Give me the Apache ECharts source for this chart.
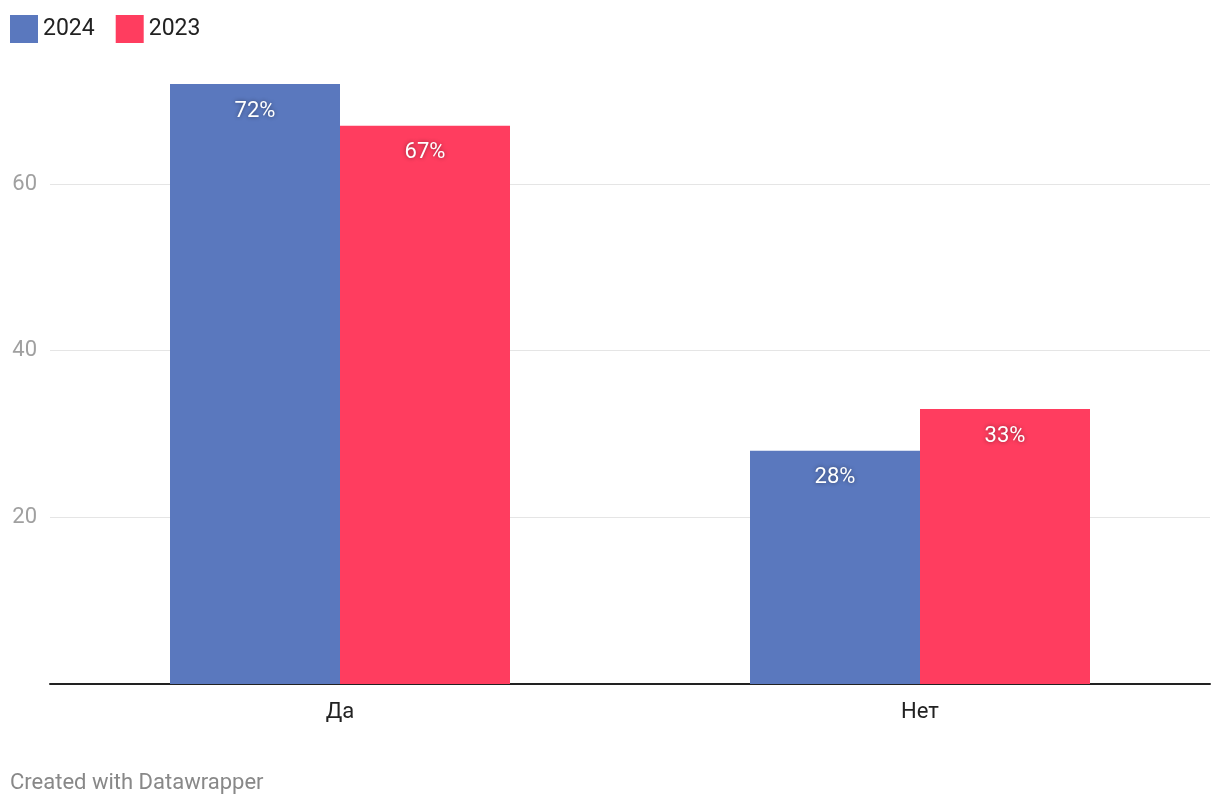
<!DOCTYPE html>
<html><head><meta charset="utf-8">
<script src="https://cdn.jsdelivr.net/npm/echarts@6/dist/echarts.min.js"></script>
<style>html,body{margin:0;padding:0;background:#fff}#c{width:1220px;height:806px}</style>
</head><body><div id="c"></div>
<script>
const categories = ['Да', 'Нет'];
const values2024 = [72, 28];
const values2023 = [67, 33];
const seriesNames = ['2024', '2023'];
const colors = ['#5a78be', '#ff3d5f'];

const chart = echarts.init(document.getElementById('c'), null, {renderer: 'canvas'});
const lbl = {
  show: true, position: 'insideTop', distance: 16,
  formatter: p => p.value + '%',
  color: '#fff', fontFamily: 'Roboto', fontSize: 22,
  textShadowColor: 'rgba(0,0,0,0.45)', textShadowBlur: 4
};
chart.setOption({
  animation: false,
  textStyle: {fontFamily: 'Roboto'},
  legend: {
    left: 5, top: 10, itemWidth: 28, itemHeight: 28, itemGap: 21,
    icon: 'rect', textStyle: {fontSize: 23, color: '#222', padding: [3, 0, 0, 0]},
    data: seriesNames
  },
  graphic: [{type: 'text', left: 10, top: 772, style: {text: 'Created with Datawrapper', fill: '#888', fontSize: 22, fontFamily: 'Roboto'}}],
  grid: {left: 50, right: 10, top: 84, bottom: 122, containLabel: false},
  xAxis: {
    type: 'category', data: categories,
    axisLine: {lineStyle: {color: '#222', width: 2}},
    axisTick: {show: false},
    axisLabel: {color: '#222', fontSize: 22, margin: 17}
  },
  yAxis: {
    type: 'value', min: 0, max: 72, interval: 20,
    axisLine: {show: false}, axisTick: {show: false},
    splitLine: {showMaxLine: false, lineStyle: {color: '#e5e5e5', width: 1}},
    axisLabel: {color: '#a0a0a0', fontSize: 22, margin: 13, showMinLabel: false, showMaxLabel: false}
  },
  series: [
    {name: seriesNames[0], type: 'bar', data: values2024, barWidth: 170, barGap: '0%', itemStyle: {color: colors[0]}, label: lbl},
    {name: seriesNames[1], type: 'bar', data: values2023, barWidth: 170, barGap: '0%', itemStyle: {color: colors[1]}, label: lbl}
  ]
});
</script></body></html>
